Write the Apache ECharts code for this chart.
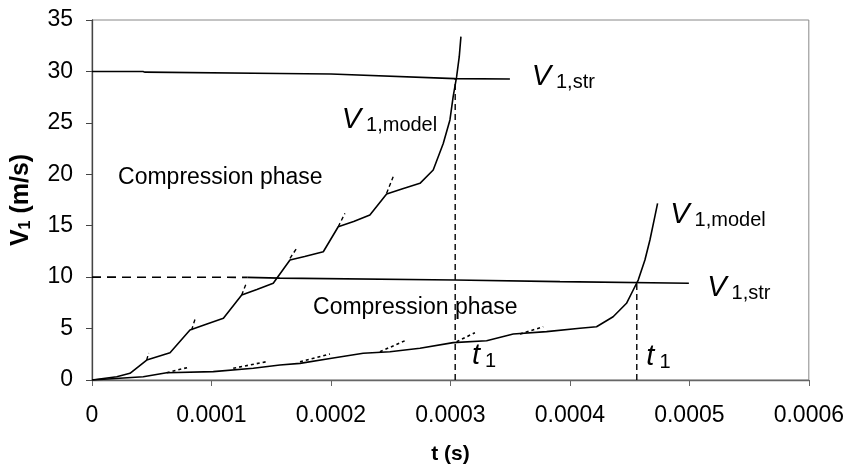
<!DOCTYPE html>
<html>
<head>
<meta charset="utf-8">
<script src="https://cdn.jsdelivr.net/npm/echarts@6/dist/echarts.min.js"></script>
<style>html,body{margin:0;padding:0;background:#fff}#c{width:847px;height:472px}</style>
</head>
<body>
<div id="c"></div>
<script>
// ---- data (t in seconds, V in m/s) ----
var xTicks = [0, 0.0001, 0.0002, 0.0003, 0.0004, 0.0005, 0.0006];
var yTicks = [0, 5, 10, 15, 20, 25, 30, 35];

var strUpper = [[0,30],[0.0000427,30],[0.0000444,29.93],[0.0001573,29.8],[0.0002,29.75],[0.0003038,29.3],[0.0003498,29.26]];
var modelUpper = [[0,0],[0.0000207,0.32],[0.0000318,0.65],[0.0000458,1.94],[0.0000653,2.65],[0.000082,4.86],
  [0.000095,5.4],[0.00011,6.0],[0.0001253,8.26],[0.000138,8.8],[0.0001517,9.4],[0.0001657,11.67],[0.000178,12.0],
  [0.0001936,12.47],[0.0002061,14.9],[0.000219,15.4],[0.0002326,16.04],[0.0002466,18.08],[0.00026,18.6],
  [0.0002745,19.12],[0.0002856,20.42],[0.000294,23.0],[0.0002996,25.28],[0.0003023,27.54],[0.0003052,29.49],
  [0.0003074,31.43],[0.0003088,33.38]];
var tangentsUpper = [
  [[0.0000458,1.94],[0.0000474,2.62]],
  [[0.0000834,4.86],[0.0000862,5.9]],
  [[0.0001253,8.26],[0.0001289,9.33]],
  [[0.0001657,11.83],[0.0001713,12.8]],
  [[0.0002061,14.9],[0.0002117,16.2]],
  [[0.0002466,18.15],[0.0002521,19.76]]
];
var strLowerDashed = [[0,10],[0.00013,9.98]];
var strLower = [[0.00013,9.98],[0.0001573,9.9],[0.0003038,9.72],[0.0003917,9.56],[0.0004996,9.4]];
var modelLower = [[0,0],[0.0000429,0.32],[0.0000625,0.71],[0.0001015,0.81],[0.000135,1.14],[0.0001573,1.46],
  [0.0001741,1.62],[0.0002006,2.11],[0.000227,2.6],[0.0002494,2.75],[0.0002745,3.08],[0.0003023,3.63],
  [0.0003303,3.82],[0.0003526,4.47],[0.0003805,4.7],[0.0004084,5.03],[0.0004223,5.18],[0.0004362,6.15],
  [0.0004474,7.46],[0.000453,8.75],[0.0004572,9.72],[0.0004628,11.67],[0.000467,13.61],[0.0004711,15.88],
  [0.0004734,17.18]];
var tangentsLower = [
  [[0.0000625,0.71],[0.0000806,1.23]],
  [[0.0001182,1.14],[0.0001461,1.78]],
  [[0.0001741,1.78],[0.0001992,2.53]],
  [[0.000241,2.75],[0.0002634,3.89]],
  [[0.0003052,3.72],[0.0003205,4.6]],
  [[0.0003582,4.47],[0.0003777,5.18]]
];
var t1Upper = [[0.000304,0],[0.000304,29.3]];
var t1Lower = [[0.000456,0],[0.000456,9.4]];

// annotations: [t, v, kind, main, sub]
var annotations = [
  [0.0000218, 19.64, 'plain', 'Compression phase', ''],
  [0.000185, 7.0, 'plain', 'Compression phase', ''],
  [0.000209, 25.3, 'sym', 'V', '1,model'],
  [0.000368, 29.5, 'sym', 'V', '1,str'],
  [0.000484, 16.0, 'sym', 'V', '1,model'],
  [0.000515, 8.94, 'sym', 'V', '1,str'],
  [0.000318, 2.33, 'sym', 't', '1'],
  [0.000464, 2.24, 'sym', 't', '1']
];

var FONT = '"Liberation Sans", Arial, sans-serif';
var chart = echarts.init(document.getElementById('c'));

function lineSeries(data, type, width) {
  return {
    type: 'line', data: data, showSymbol: false, symbol: 'none', silent: true,
    lineStyle: { color: '#000', width: width || 1.6, type: type || 'solid' },
    animation: false, z: 3
  };
}
var series = [
  lineSeries(strUpper),
  lineSeries(modelUpper),
  lineSeries(strLowerDashed, [9, 6], 1.6),
  lineSeries(strLower),
  lineSeries(modelLower),
  lineSeries(t1Upper, [6, 4], 1.4),
  lineSeries(t1Lower, [6, 4], 1.4)
];
tangentsUpper.forEach(function (s) { series.push(lineSeries(s, [4, 3], 1.4)); });
tangentsLower.forEach(function (s) { series.push(lineSeries(s, [3, 3], 1.6)); });

chart.setOption({
  animation: false,
  backgroundColor: '#fff',
  grid: { left: 92, right: 38, top: 20, bottom: 92, show: true, borderColor: '#888', borderWidth: 1 },
  xAxis: {
    type: 'value', min: xTicks[0], max: xTicks[xTicks.length - 1], interval: 0.0001,
    name: 't (s)', nameLocation: 'middle', nameGap: 64,
    nameTextStyle: { fontFamily: FONT, fontSize: 21, fontWeight: 'bold', color: '#000' },
    axisLine: { show: true, onZero: false, lineStyle: { color: '#666', width: 1.3 } },
    axisTick: { show: true, length: 6, lineStyle: { color: '#666' } },
    axisLabel: { fontFamily: FONT, fontSize: 23, color: '#000', margin: 24,
      formatter: function (v) { var i = Math.round(v / 0.0001); return i === 0 ? '0' : '0.000' + i; } },
    splitLine: { show: false }
  },
  yAxis: {
    type: 'value', min: yTicks[0], max: yTicks[yTicks.length - 1], interval: 5,
    name: '{b|V}{s|1}{b| (m/s)}', nameLocation: 'middle', nameGap: 58,
    nameTextStyle: { fontFamily: FONT, color: '#000',
      rich: { b: { fontFamily: FONT, fontSize: 25, fontWeight: 'bold', color: '#000' },
              s: { fontFamily: FONT, fontSize: 16, fontWeight: 'bold', color: '#000', padding: [9, 0, 0, 0] } } },
    axisLine: { show: true, lineStyle: { color: '#444', width: 1.3 } },
    axisTick: { show: true, length: 6, lineStyle: { color: '#444' } },
    axisLabel: { fontFamily: FONT, fontSize: 23, color: '#000', margin: 19 },
    splitLine: { show: false }
  },
  series: series
});

var graphics = annotations.map(function (a) {
  var p = chart.convertToPixel({ gridIndex: 0 }, [a[0], a[1]]);
  if (a[2] === 'plain') {
    return { type: 'text', x: p[0], y: p[1], silent: true, z: 10,
      style: { text: a[3], fontFamily: FONT, fontSize: 23, fill: '#000', verticalAlign: 'middle', align: 'left' } };
  }
  return { type: 'text', x: p[0], y: p[1], silent: true, z: 10,
    style: { text: '{m|' + a[3] + '}{s|' + a[4] + '}', verticalAlign: 'middle', align: 'left',
      rich: { m: { fontFamily: FONT, fontSize: 29, fontStyle: 'italic', fill: '#000', padding: [0, 5, 0, 0] },
              s: { fontFamily: FONT, fontSize: 20, fill: '#000', padding: [11, 0, 0, 0] } } } };
});
chart.setOption({ graphic: graphics });
</script>
</body>
</html>
